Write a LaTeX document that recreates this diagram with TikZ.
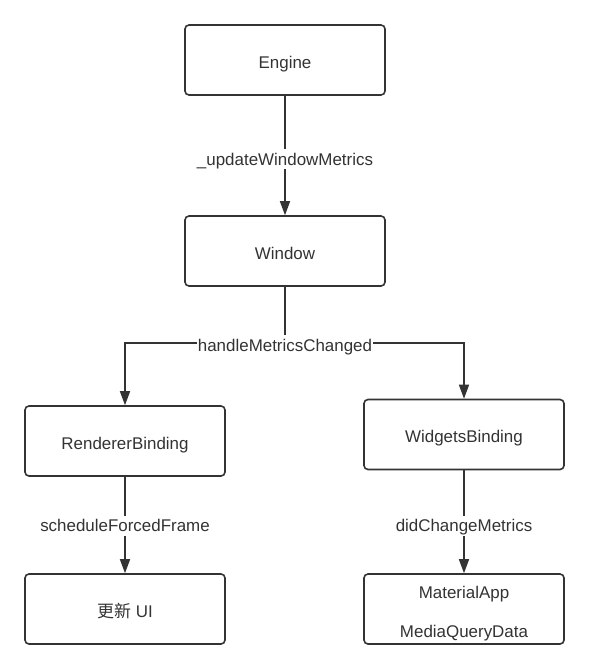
\documentclass[tikz,border=0pt]{standalone}
\usepackage{fontspec}
\setmainfont{Liberation Sans}
\newfontfamily\cjk{Noto Sans CJK SC}
\usetikzlibrary{arrows.meta}
\definecolor{ink}{HTML}{333333}
\begin{document}
\begin{tikzpicture}[x=1bp,y=-1bp,
  box/.style={draw=ink, line width=1.6bp, rounded corners=4bp, minimum width=200bp, minimum height=70bp, inner sep=0pt, text=ink, text height=16.5bp, text depth=0pt, font=\fontsize{17}{20}\selectfont},
  conn/.style={draw=ink, line width=1.6bp, -{Triangle[length=14bp,width=10bp]}},
  wire/.style={draw=ink, line width=1.6bp},
  lbl/.style={fill=white, text=ink, inner xsep=1bp, inner ysep=2bp, text height=14bp, text depth=2bp, font=\fontsize{17}{20}\selectfont}]
\useasboundingbox[fill=white] (0,0) rectangle (589,669);
\node[box] (engine) at (285,60) {Engine};
\node[box] (window) at (285,251) {Window};
\node[box] (rb) at (125,441) {RendererBinding};
\node[box] (wb) at (464,434.5) {WidgetsBinding};
\node[box] (ui) at (125,609) {{\cjk 更新} UI};
\node[box, text height=0pt, text depth=0pt, font=\fontsize{17}{40}\selectfont] (ma) at (464,609) {\raisebox{-5.3bp}[0pt][0pt]{\begin{tabular}{@{}c@{}}MaterialApp\\MediaQueryData\end{tabular}}};
\draw[conn] (engine) -- node[lbl, pos=0.53] (l1) {\_updateWindowMetrics} (window);
\draw[wire] (window.south) -- (285,343) coordinate (j);
\draw[conn] (j) -| (rb.north);
\draw[conn] (j) -| (wb.north);
\node[lbl, yshift=-2bp] (l2) at (j) {handleMetricsChanged};
\draw[conn] (rb) -- node[lbl, pos=0.51] (l3) {scheduleForcedFrame} (ui);
\draw[conn] (wb) -- node[lbl, pos=0.54] (l4) {didChangeMetrics} (ma);
\end{tikzpicture}
\end{document}
